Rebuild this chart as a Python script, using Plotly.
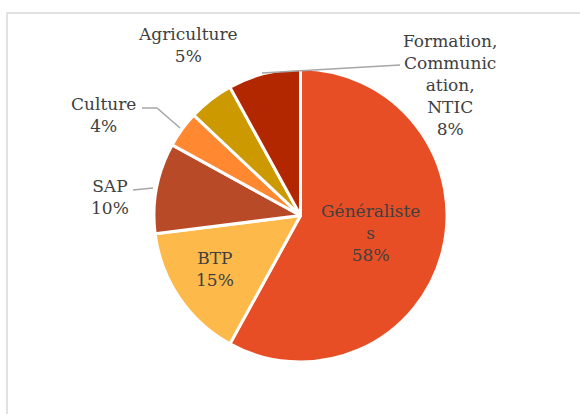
import plotly.graph_objects as go

W, H = 580, 414

categories = ["Généralistes", "BTP", "SAP", "Culture", "Agriculture",
              "Formation, Communication, NTIC"]
values = [58, 15, 10, 4, 5, 8]
display_labels = ["Généraliste<br>s", "BTP", "SAP", "Culture", "Agriculture",
                  "Formation,<br>Communic<br>ation,<br>NTIC"]
colors = ["#E84E25", "#FDB94A", "#B84A28", "#FF8830", "#CC9900", "#B22600"]

# label block centres (pixels)
label_pos = [(370, 233), (215, 269), (110, 197), (103, 115), (188, 45), (450, 85)]

FONT = "DejaVu Serif"
FONT_SIZE = 17


def px(x):
    return x / W


def py(y):
    return 1 - y / H


fig = go.Figure()
fig.add_trace(go.Pie(
    labels=categories,
    values=values,
    sort=False,
    direction="clockwise",
    rotation=0,
    marker=dict(colors=colors, line=dict(color="white", width=3)),
    textinfo="none",
    hoverinfo="label+percent",
    showlegend=False,
    domain=dict(x=[px(154), px(447)], y=[py(362), py(69)]),
))

total = sum(values)
annotations = []
for lab, v, (x, y) in zip(display_labels, values, label_pos):
    annotations.append(dict(
        x=px(x), y=py(y), xref="paper", yref="paper",
        text=f"{lab}<br>{round(100 * v / total)}%",
        showarrow=False, xanchor="center", yanchor="middle", align="center",
        font=dict(family=FONT, size=FONT_SIZE, color="#404040"),
    ))

shapes = [
    dict(type="rect", xref="paper", yref="paper",
         x0=px(7), y0=py(430), x1=px(600), y1=py(13),
         line=dict(color="#D9D9D9", width=1.5), fillcolor="rgba(0,0,0,0)", layer="below"),
    dict(type="path", xref="paper", yref="paper",
         path=f"M {px(142)} {py(108)} L {px(157)} {py(108)} L {px(180)} {py(128)}",
         line=dict(color="#A6A6A6", width=1.5)),
    dict(type="line", xref="paper", yref="paper",
         x0=px(133), y0=py(190), x1=px(153), y1=py(188),
         line=dict(color="#A6A6A6", width=1.5)),
    dict(type="line", xref="paper", yref="paper",
         x0=px(262), y0=py(73), x1=px(400), y1=py(65),
         line=dict(color="#A6A6A6", width=1.5)),
]

fig.update_layout(
    width=W, height=H,
    margin=dict(l=0, r=0, t=0, b=0),
    paper_bgcolor="white", plot_bgcolor="white",
    font=dict(family=FONT),
    annotations=annotations,
    shapes=shapes,
)

fig.write_html("out.html",
               config={"displayModeBar": False},
               post_script="document.body.style.margin='0';document.body.style.overflow='hidden';")
